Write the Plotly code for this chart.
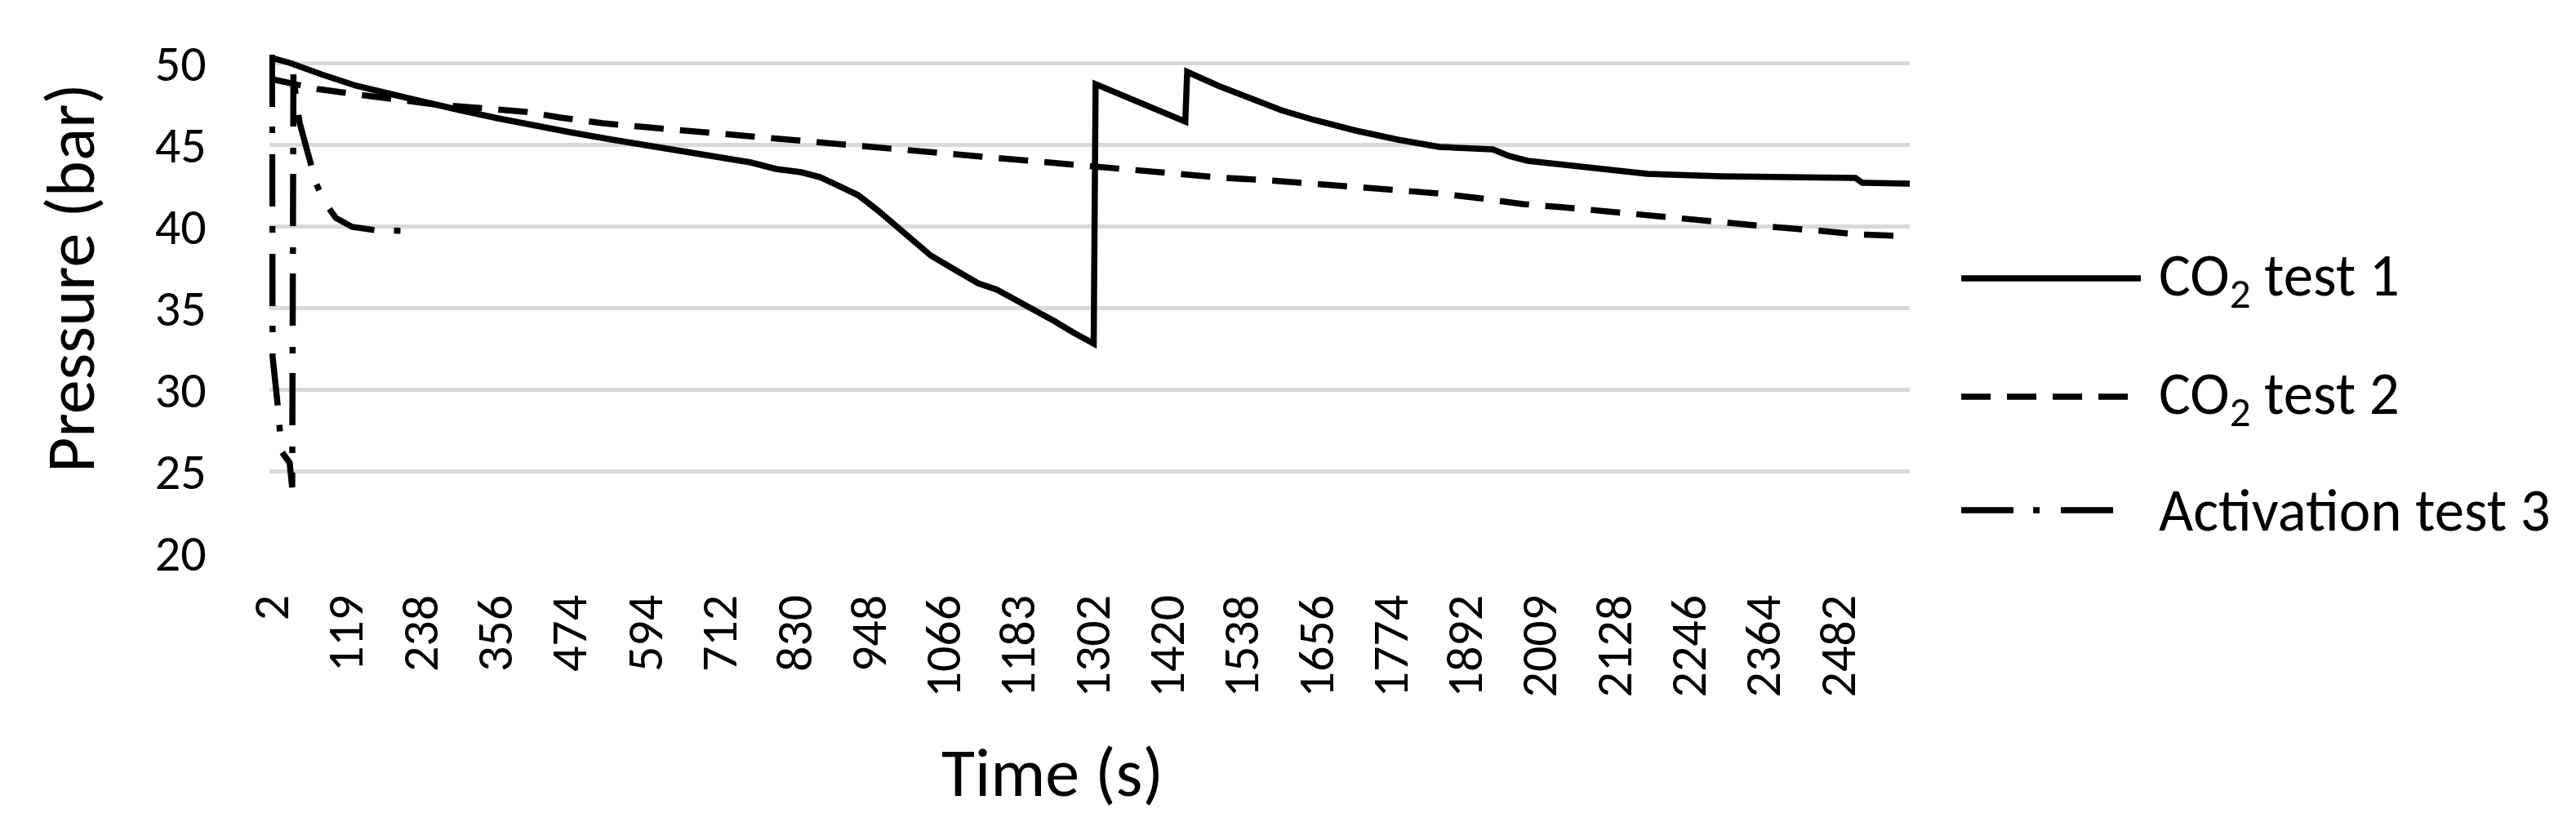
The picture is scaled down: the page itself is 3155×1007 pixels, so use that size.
import plotly.graph_objects as go

# Time (s) and pressure (bar)
co2_test_1_time = [
    2, 30, 80, 135, 200, 241, 300, 360, 420, 474, 540, 600, 660, 712, 760,
    800, 840, 870, 900, 930, 960, 990, 1020, 1045, 1080, 1120, 1150, 1180,
    1210, 1240, 1270, 1303, 1306, 1380, 1448, 1451, 1500, 1550, 1600, 1652,
    1718, 1784, 1850, 1935, 1960, 1990, 2047, 2107, 2180, 2298, 2509, 2520,
    2595,
]
co2_test_1_pressure = [
    50.3, 50.0, 49.3, 48.6, 48.0, 47.6, 47.1, 46.6, 46.2, 45.75, 45.3, 44.9,
    44.5, 44.2, 43.9, 43.5, 43.3, 43.0, 42.5, 41.9, 41.0, 40.0, 39.1, 38.2,
    37.4, 36.5, 36.1, 35.5, 34.8, 34.2, 33.5, 32.8, 48.7, 47.5, 46.4, 49.45,
    48.6, 47.85, 47.1, 46.5, 45.85, 45.3, 44.85, 44.7, 44.3, 44.0, 43.75,
    43.5, 43.2, 43.05, 42.95, 42.65, 42.6,
]

co2_test_2_time = [
    2, 30, 74, 130, 200, 260, 341, 404, 458, 526, 598, 658, 712, 782, 848,
    914, 986, 1057, 1122, 1181, 1243, 1307, 1366, 1438, 1511, 1583, 1649,
    1718, 1850, 1916, 1982, 2047, 2113, 2180, 2245, 2311, 2377, 2443, 2509,
    2575,
]
co2_test_2_pressure = [
    49.0, 48.8, 48.4, 48.1, 47.7, 47.45, 47.2, 47.0, 46.65, 46.3, 46.05,
    45.85, 45.65, 45.45, 45.2, 44.95, 44.7, 44.45, 44.25, 44.05, 43.9, 43.7,
    43.45, 43.2, 42.95, 42.8, 42.6, 42.4, 42.0, 41.7, 41.35, 41.15, 40.9,
    40.65, 40.4, 40.15, 39.95, 39.75, 39.5, 39.4,
]

activation_test_3_time = [
    2, 3, 12, 17, 30, 34, 36, 40, 46, 55, 63, 72, 85, 103, 129, 165, 225,
]
activation_test_3_pressure = [
    50.5, 32.0, 28.7, 26.2, 25.5, 24.0, 49.5, 47.8, 46.3, 45.0, 43.7, 42.6,
    41.5, 40.5, 39.95, 39.75, 39.7,
]

time_tick_labels = [
    2, 119, 238, 356, 474, 594, 712, 830, 948, 1066, 1183, 1302, 1420, 1538,
    1656, 1774, 1892, 2009, 2128, 2246, 2364, 2482,
]
pressure_ticks = [20, 25, 30, 35, 40, 45, 50]

series_names = ["CO<sub>2</sub> test 1", "CO<sub>2</sub> test 2", "Activation test 3"]
series_dashes = ["solid", "36px,20px", "64px,24px,8px,26px"]

FONT = "Carlito, Lato, sans-serif"


def make_plot() -> go.Figure:
    """
    Build the pressure against time line chart for the three tests

    :return: A plotly.graph_objects.Figure
    """
    series = [
        (co2_test_1_time, co2_test_1_pressure),
        (co2_test_2_time, co2_test_2_pressure),
        (activation_test_3_time, activation_test_3_pressure),
    ]

    plot = go.Figure()
    for (times, pressures), name, dash in zip(series, series_names, series_dashes):
        plot.add_trace(
            go.Scatter(
                x=times,
                y=pressures,
                name=name,
                mode="lines",
                line=dict(color="black", width=7.5, dash=dash),
                showlegend=False,
            )
        )

    # Excel style legend: long line samples to the right of the plot
    # (row height, sample end) in paper units; the sample length fits each dash pattern
    legend_rows = [0.549, 0.312, 0.085]
    legend_ends = [1.1409, 1.1339, 1.1279]
    for name, dash, row, end in zip(series_names, series_dashes, legend_rows, legend_ends):
        plot.add_shape(
            type="line",
            xref="paper",
            yref="paper",
            x0=1.0314,
            x1=end,
            y0=row,
            y1=row,
            line=dict(color="black", width=7.5, dash=dash),
        )
        plot.add_annotation(
            text=name,
            xref="paper",
            yref="paper",
            x=1.1510,
            y=row,
            xanchor="left",
            yanchor="middle",
            showarrow=False,
            font=dict(family=FONT, size=73, color="black"),
        )

    # Axis titles
    plot.add_annotation(
        text="Time (s)",
        xref="paper",
        yref="paper",
        x=0.4773,
        y=-0.441,
        xanchor="center",
        yanchor="middle",
        showarrow=False,
        font=dict(family=FONT, size=84, color="black"),
    )
    plot.add_annotation(
        text="Pressure (bar)",
        xref="paper",
        yref="paper",
        x=-0.121,
        y=0.5507,
        xanchor="center",
        yanchor="middle",
        textangle=-90,
        showarrow=False,
        font=dict(family=FONT, size=84, color="black"),
    )

    plot.update_xaxes(
        range=[-2, 2595],
        tickvals=time_tick_labels,
        ticktext=[str(t) for t in time_tick_labels],
        tickangle=-90,
        ticks="outside",
        ticklen=26,
        tickcolor="rgba(0,0,0,0)",
        showgrid=False,
        zeroline=False,
        showline=False,
        tickfont=dict(family=FONT, size=62, color="black"),
    )
    plot.update_yaxes(
        range=[20, 50.6],
        tickvals=pressure_ticks,
        ticks="outside",
        ticklen=64,
        tickcolor="rgba(0,0,0,0)",
        showgrid=True,
        gridcolor="#d9d9d9",
        gridwidth=4.5,
        zeroline=False,
        showline=False,
        tickfont=dict(family=FONT, size=62, color="black"),
    )

    plot.update_layout(
        width=3155,
        height=1007,
        margin=dict(l=322, r=824, t=57, b=338),
        paper_bgcolor="white",
        plot_bgcolor="white",
        font=dict(family=FONT, color="black"),
    )
    return plot


def main() -> None:
    plot = make_plot()
    plot.write_html("out.html")


if __name__ == "__main__":
    main()
